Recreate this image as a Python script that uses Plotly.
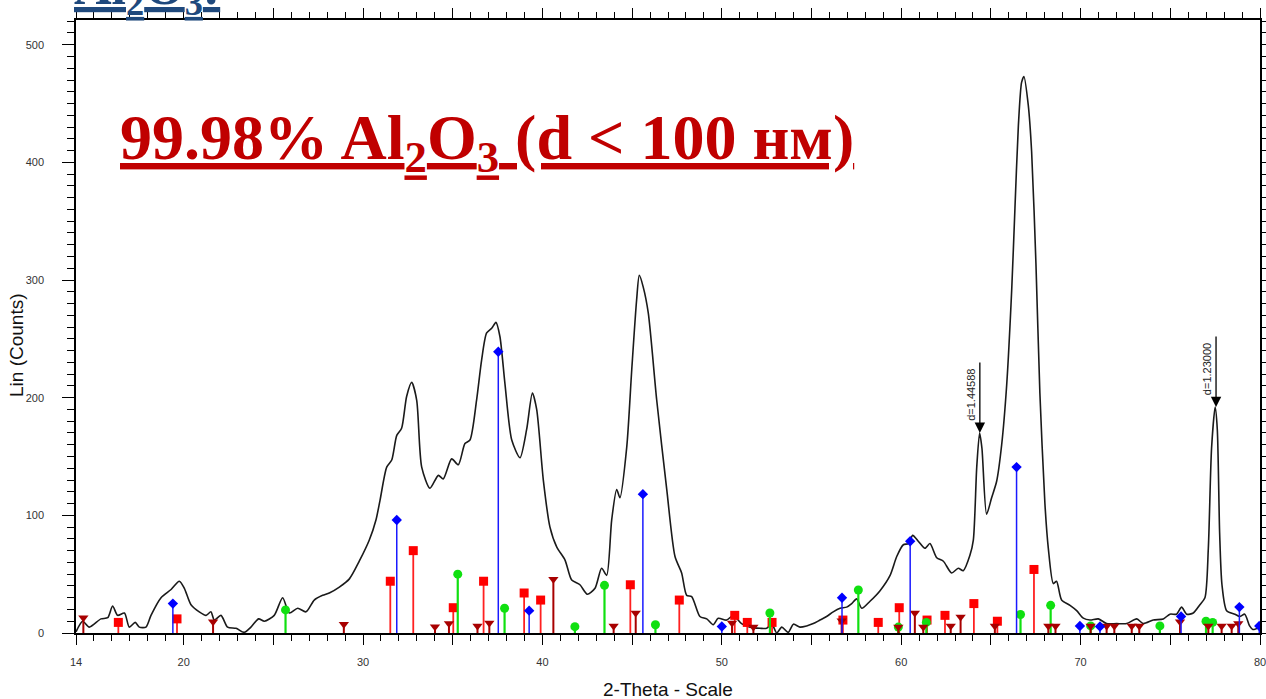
import math
import plotly.graph_objects as go

# ---- diffraction scan (2-Theta, counts) ----
two_theta = [14.0, 14.37, 14.74, 15.39, 15.77, 16.04, 16.32, 16.7, 16.97, 17.3, 17.53, 17.9,
             18.18, 18.74, 19.3, 19.76, 20.04, 20.41, 20.87, 21.25, 21.52, 21.71, 22.08, 22.45,
             22.92, 23.38, 23.75, 24.18, 24.5, 25.05, 25.52, 25.89, 26.36, 26.82, 27.28, 27.75,
             28.12, 28.68, 29.24, 29.79, 30.35, 30.72, 30.95, 31.32, 31.6, 31.88, 32.15, 32.43,
             32.71, 32.99, 33.27, 33.73, 34.2, 34.47, 34.94, 35.31, 35.68, 35.96, 36.33, 36.61,
             36.89, 37.17, 37.41, 37.63, 37.91, 38.29, 38.75, 39.12, 39.44, 39.68, 40.05, 40.42,
             40.8, 41.26, 41.63, 42.09, 42.5, 42.93, 43.3, 43.58, 43.86, 44.14, 44.32, 44.7,
             44.98, 45.25, 45.4, 45.62, 45.9, 46.37, 46.93, 47.39, 47.76, 48.04, 48.32, 48.78,
             49.16, 49.52, 49.8, 50.27, 50.64, 51.1, 51.57, 52.13, 52.5, 52.78, 53.06, 53.34,
             53.7, 53.99, 54.36, 54.73, 55.1, 55.47, 55.84, 56.21, 56.59, 56.96, 57.24, 57.52,
             57.8, 58.26, 58.82, 59.38, 59.75, 60.12, 60.4, 60.64, 60.95, 61.32, 61.6, 61.98,
             62.35, 62.81, 63.18, 63.46, 63.83, 64.02, 64.21, 64.37, 64.5, 64.76, 65.04, 65.32,
             65.6, 65.88, 66.16, 66.34, 66.53, 66.71, 66.84, 67.08, 67.27, 67.51, 67.73, 68.01,
             68.2, 68.48, 68.66, 68.94, 69.41, 69.78, 70.15, 70.52, 70.99, 71.45, 72.01, 72.57,
             73.13, 73.49, 74.05, 74.61, 74.98, 75.35, 75.63, 75.91, 76.28, 76.65, 76.93, 77.12,
             77.3, 77.5, 77.62, 77.75, 77.88, 78.14, 78.6, 78.87, 79.15, 79.42, 79.6, 80.0]
counts = [1, 10, 5, 12, 13, 23, 15, 17, 5, 9, 5, 5,
          15, 30, 37, 44, 38, 24, 18, 15, 18, 11, 15, 5,
          4, 0.5, 5, 12, 10, 15, 30, 17, 21, 18, 28, 32,
          34, 39, 46, 61, 79, 96, 113, 141, 147, 168, 174, 201,
          213, 198, 141, 123, 134, 131, 148, 143, 161, 164, 198, 232,
          255, 259, 264, 252, 212, 164, 149, 173, 204, 190, 130, 90,
          73, 62, 45, 41, 33, 38, 55, 49, 96, 122, 115, 158,
          224, 283, 304, 294, 272, 198, 122, 65, 51, 32, 31, 14,
          12, 7, 12.5, 11, 15, 8, 5, 4, 4, 8, 0, 5,
          0.5, 7.5, 5, 6, 8, 11, 14, 18, 21, 22, 25, 29,
          21, 27, 36, 49, 65, 75, 76, 83, 78, 72, 76, 64,
          61, 51, 55, 53, 66, 79, 141, 170, 157, 101, 115, 129,
          160, 211, 292, 361, 431, 468, 473, 449, 409, 314, 204, 110,
          72, 42, 44, 28, 23.5, 19, 12.6, 11, 12, 8, 8, 8,
          12, 8, 11, 12, 16, 16, 22, 16, 17, 24, 30, 72,
          157, 192, 173, 85, 41, 19, 16, 14, 16, 6, 3, 5]

# ---- reference phase line patterns ----
blue_theta = [19.4, 31.88, 37.54, 39.26, 45.6, 50.0, 56.7, 60.5, 66.43, 69.96, 71.08, 75.6, 78.85, 79.96]
blue_vals = [25, 96, 239, 19, 118, 5.5, 30, 78, 141, 6, 5.5, 14, 22, 6]

red_theta = [16.36, 19.63, 31.52, 32.8, 35.03, 36.72, 38.98, 39.9, 44.9, 47.63, 50.72,
             51.42, 52.8, 56.75, 58.72, 59.89, 61.44, 62.44, 64.05, 65.36, 67.4]
red_vals = [9, 12, 44, 70, 21.5, 44, 34, 28, 41, 28, 15,
            9, 9, 11, 9, 21.5, 11, 15, 25, 10, 54]

green_theta = [25.68, 35.28, 37.89, 41.81, 43.46, 46.3, 52.68, 57.61, 59.84, 61.4,
               66.65, 68.33, 70.56, 74.42, 76.99, 77.36]
green_vals = [19.6, 50, 21, 5.4, 40.5, 7, 17, 36.5, 5, 9,
              15.7, 23.5, 6, 6, 10, 9]

tri_theta = [14.41, 21.64, 28.93, 34.01, 34.79, 36.38, 37.04, 40.61, 43.97, 45.2, 50.57,
             51.76, 56.68, 59.84, 60.76, 61.23, 62.76, 63.31, 65.22, 68.2, 68.6, 70.56,
             71.45, 71.88, 72.85, 73.27, 75.54, 77.12, 77.86, 78.42, 78.79]
tri_vals = [13, 9.6, 7.4, 5.4, 8, 6, 8.6, 45.6, 6, 17, 8.5,
            5, 10.5, 5, 17, 5, 6, 13.5, 6, 6, 6, 6,
            6, 6, 6, 6, 9.5, 6, 6, 6, 8]

# ---- marked reflections: interplanar spacing (angstrom) and peak height ----
d_spacing = [1.44588, 1.23000]
d_peak_counts = [170, 192]
wavelength = 1.5406  # Cu K-alpha1

x_tick_vals = [14, 20, 25, 30, 35, 40, 45, 50, 55, 60, 65, 70, 75, 80]
x_tick_text = ["14", "20", "", "30", "", "40", "", "50", "", "60", "", "70", "", "80"]
y_tick_vals = [0, 100, 200, 300, 400, 500]

W, H = 1266, 699
L, R, T, B = 76, 6, 20, 66
X_RANGE = [14, 80]
Y_RANGE = [0, 521]

fig = go.Figure()

fig.add_trace(go.Scatter(
    x=two_theta, y=counts, mode="lines",
    line=dict(color="#1a1a1a", width=1.6, shape="spline", smoothing=0.7),
    hoverinfo="skip", showlegend=False,
))


def stick_trace(xs, ys, line_color, marker_color, symbol, size, thickness):
    return go.Scatter(
        x=xs, y=ys, mode="markers",
        marker=dict(symbol=symbol, size=size, color=marker_color, line=dict(width=0)),
        error_y=dict(type="data", symmetric=False, array=[0] * len(ys), arrayminus=ys,
                     width=0, thickness=thickness, color=line_color),
        showlegend=False, hoverinfo="x+y",
    )


fig.add_trace(stick_trace(red_theta, red_vals, "#ff2020", "#ff0000", "square", 9, 1.8))
fig.add_trace(stick_trace(green_theta, green_vals, "#10e010", "#10e010", "circle", 9, 2.2))
fig.add_trace(stick_trace(tri_theta, tri_vals, "#a80000", "#a80000", "triangle-down", 9, 2))
fig.add_trace(stick_trace(blue_theta, blue_vals, "#1a1aff", "#0000ff", "diamond", 8, 1.5))

annotations = []

# arrows on the marked reflections, 2-Theta from Bragg's law
for d, peak in zip(d_spacing, d_peak_counts):
    tth = 2 * math.degrees(math.asin(wavelength / (2 * d)))
    annotations.append(dict(
        x=tth, y=peak, xref="x", yref="y", ax=0, ay=-72, text="",
        showarrow=True, arrowhead=2, arrowsize=1.6, arrowwidth=1.3, arrowcolor="black",
        standoff=0,
    ))
    annotations.append(dict(
        x=tth, y=peak, xref="x", yref="y", text="d=%.5f" % d, textangle=-90,
        showarrow=False, xanchor="right", yanchor="bottom", xshift=-1, yshift=10,
        font=dict(family="Arial, Liberation Sans", size=11, color="#222"),
    ))

pw = W - L - R
ph = H - T - B

annotations.append(dict(
    text="Lin (Counts)", textangle=-90, showarrow=False,
    xref="paper", yref="paper", x=(17 - L) / pw, y=(H - B - 345) / ph,
    xanchor="center", yanchor="middle",
    font=dict(family="Arial, Liberation Sans", size=19, color="#111"),
))
annotations.append(dict(
    text="2-Theta - Scale", showarrow=False,
    xref="paper", yref="paper", x=(668 - L) / pw, y=(H - B - 689) / ph,
    xanchor="center", yanchor="middle",
    font=dict(family="Arial, Liberation Sans", size=19, color="#111"),
))
annotations.append(dict(
    text="<b><u>99.98% Al<sub>2</sub>O<sub>3</sub> (d &lt; 100 нм)</u></b>",
    showarrow=False, xref="paper", yref="paper",
    x=(118 - L) / pw, y=(H - B - 142) / ph, xanchor="left", yanchor="middle",
    font=dict(family="Liberation Serif, Times New Roman", size=64, color="#c00000"),
))
annotations.append(dict(
    text="<b><u>Al<sub>2</sub>O<sub>3</sub>:</u></b>",
    showarrow=False, xref="paper", yref="paper",
    x=(72 - L) / pw, y=(H - B - 25) / ph, xanchor="left", yanchor="bottom",
    font=dict(family="Liberation Serif, Times New Roman", size=52, color="#1f497d"),
))

axis_common = dict(
    showline=True, linecolor="black", linewidth=1.5, mirror="ticks",
    ticks="outside", tickcolor="black", tickwidth=1.2, showgrid=False, zeroline=False,
    tickfont=dict(family="Arial, Liberation Sans", size=11, color="#333"),
    automargin=False, ticklabeloverflow="allow",
)

fig.update_layout(
    width=W, height=H,
    margin=dict(l=L, r=R, t=T, b=B, pad=0, autoexpand=False),
    paper_bgcolor="white", plot_bgcolor="white",
    xaxis=dict(range=X_RANGE, tickmode="array", tickvals=x_tick_vals, ticktext=x_tick_text,
               ticklen=10, ticklabelstandoff=8,
               minor=dict(tick0=14, dtick=1, ticklen=6, ticks="outside", tickcolor="black",
                          tickwidth=1.2, showgrid=False),
               **axis_common),
    yaxis=dict(range=Y_RANGE, tickmode="array", tickvals=y_tick_vals, ticklen=12,
               ticklabelstandoff=16,
               minor=dict(tick0=0, dtick=10, ticklen=7, ticks="outside", tickcolor="black",
                          tickwidth=1.2, showgrid=False),
               **axis_common),
    annotations=annotations,
)

fig.write_html("out.html")
